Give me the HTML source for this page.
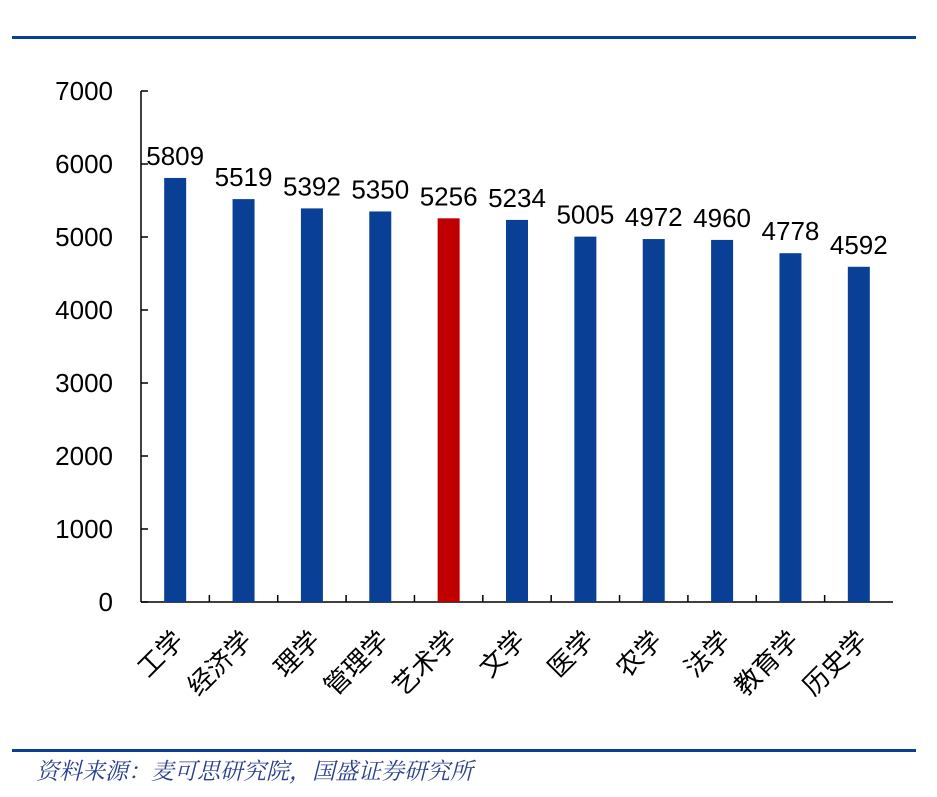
<!DOCTYPE html>
<html><head><meta charset="utf-8"><style>
body{margin:0;background:#fff;}
svg text{font-family:"Liberation Sans","Noto Sans CJK SC",sans-serif;}
</style></head><body>
<svg width="937" height="792" viewBox="0 0 937 792">
<rect x="12" y="36" width="904" height="3" fill="#0a3f96"/>
<g id="plot"></g>
<rect x="12" y="749" width="904" height="3" fill="#0a3f96"/>
<text x="36" y="779" font-size="23" font-style="italic" fill="#2a3f8f" style="font-family:'Noto Serif CJK SC','Noto Sans CJK SC',serif">资料来源：麦可思研究院，国盛证券研究所</text>
</svg>
<script>
const categories=["工学","经济学","理学","管理学","艺术学","文学","医学","农学","法学","教育学","历史学"];
const values=[5809,5519,5392,5350,5256,5234,5005,4972,4960,4778,4592];
const highlight=[false,false,false,false,true,false,false,false,false,false,false];
const yTicks=[0,1000,2000,3000,4000,5000,6000,7000];
const NS="http://www.w3.org/2000/svg";
const g=document.getElementById('plot');
const x0=141,x1=893,yBase=602,yTop=91,yMax=7000;
const bw=(x1-x0)/categories.length;
const y=v=>yBase-(v/yMax)*(yBase-yTop);
const xc=i=>x0+bw*(i+0.5);
function mk(t,a){const e=document.createElementNS(NS,t);for(const k in a)e.setAttribute(k,a[k]);g.appendChild(e);return e;}
let e=mk('line',{x1:x0,y1:yTop,x2:x0,y2:yBase,stroke:'#000','stroke-width':1.5});


e=mk('line',{x1:x0,y1:yBase,x2:x1,y2:yBase,stroke:'#000','stroke-width':1.5});


yTicks.forEach(v=>{
 let t=mk('line',{x1:x0,y1:y(v),x2:x0+7,y2:y(v),stroke:'#000','stroke-width':1.5});
 
 
 let l=mk('text',{x:113,y:y(v)+9,'font-size':26,'text-anchor':'end',fill:'#000'});
 l.textContent=v;
 
 
});
for(let i=1;i<categories.length;i++){
 let t=mk('line',{x1:x0+bw*i,y1:yBase,x2:x0+bw*i,y2:yBase-7,stroke:'#000','stroke-width':1.5});
 
 
}
values.forEach((v,i)=>{
 let b=mk('rect',{x:xc(i)-11,y:y(v),width:22,height:yBase-y(v),fill:highlight[i]?'#c00000':'#0a3f96'});
 
 
 let l=mk('text',{x:xc(i),y:y(v)-13,'font-size':26,'text-anchor':'middle',fill:'#000'});
 l.textContent=v;
 
 
 let c=mk('text',{x:0,y:0,'font-size':26,'text-anchor':'end',fill:'#000',transform:`translate(${xc(i)+10},${yBase+40}) rotate(-45)`});
 c.textContent=categories[i];
 
 
});
</script>
</body></html>
